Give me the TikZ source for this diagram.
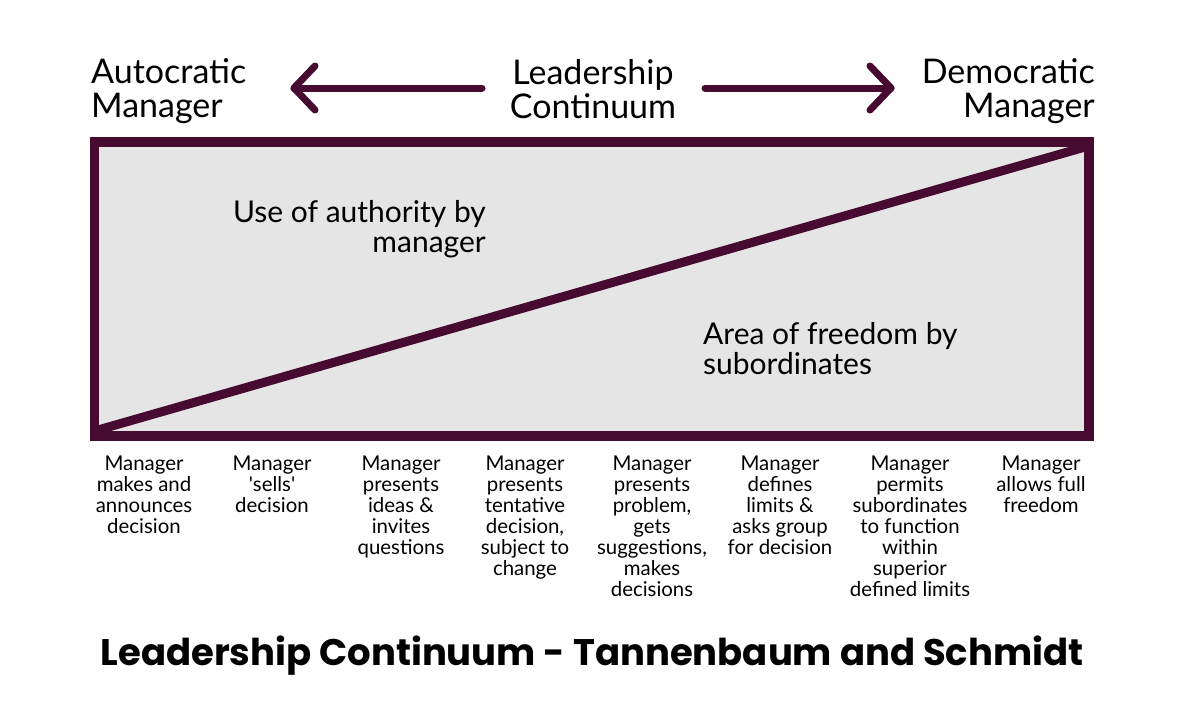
\documentclass[tikz,border=0pt]{standalone}
\usepackage{fontspec}
\setmainfont{Lato}
\newfontfamily\titlefont{Poppins}
\definecolor{maroon}{HTML}{470A30}
\definecolor{panel}{HTML}{E5E5E5}
\begin{document}
\begin{tikzpicture}[x=1pt,y=-1pt,
  big/.style={inner sep=0pt, font=\fontsize{34}{34}\selectfont},
  mid/.style={inner sep=0pt, font=\fontsize{30}{30}\selectfont},
  small/.style={inner sep=0pt, anchor=north, align=center, font=\fontsize{20.4}{21}\selectfont},
  arr/.style={draw=maroon, line width=7pt, line cap=round, line join=round},
  frame/.style={draw=maroon, line width=9.5pt},
]
\useasboundingbox (0,0) rectangle (1184,724);
% header
\node[big, anchor=west, align=left] (auto) at (91,91) {Autocratic\\Manager};
\node[big, align=center] (lead) at (593,89) {Leadership\\Continuum};
\node[big, anchor=east, align=right] (demo) at (1095,91) {Democratic\\Manager};
% arrows
\coordinate (la) at (482,88);
\coordinate (lt) at (294,88);
\coordinate (ra) at (705,88);
\coordinate (rt) at (891,88);
\draw[arr] (la) -- (lt);
\draw[arr] ([shift={(21,-22)}]lt) -- (lt) -- ([shift={(21,22)}]lt);
\draw[arr] (ra) -- (rt);
\draw[arr] ([shift={(-21,-22)}]rt) -- (rt) -- ([shift={(-21,22)}]rt);
% panel
\fill[panel] (94.5,142) rectangle (1089,436);
\coordinate (dl) at (98,430);
\coordinate (dr) at (1085,147);
\draw[draw=maroon, line width=9pt] (dl) -- (dr);
\draw[frame] (94.5,142) rectangle (1089,436);
\node[mid, anchor=east, align=right] (use) at (486,229) {Use of authority by\\manager};
\node[mid, anchor=west, align=left] (area) at (703,349) {Area of freedom by\\subordinates};
% bottom labels
\node[small] (s1) at (144,456) {Manager\\makes and\\announces\\decision};
\node[small] (s2) at (272,456) {Manager\\\textquotesingle sells\textquotesingle\\decision};
\node[small] (s3) at (401,456) {Manager\\presents\\ideas \&\\invites\\questions};
\node[small] (s4) at (525,456) {Manager\\presents\\tentative\\decision,\\subject to\\change};
\node[small] (s5) at (652,456) {Manager\\presents\\problem,\\gets\\suggestions,\\makes\\decisions};
\node[small] (s6) at (780,456) {Manager\\defines\\limits \&\\asks group\\for decision};
\node[small] (s7) at (910,456) {Manager\\permits\\subordinates\\to function\\within\\superior\\defined limits};
\node[small] (s8) at (1041,456) {Manager\\allows full\\freedom};
% title
\node[inner sep=0pt, font=\titlefont\bfseries\fontsize{37}{40}\selectfont] (title) at (592,656) {Leadership Continuum - Tannenbaum and Schmidt};
\end{tikzpicture}
\end{document}
